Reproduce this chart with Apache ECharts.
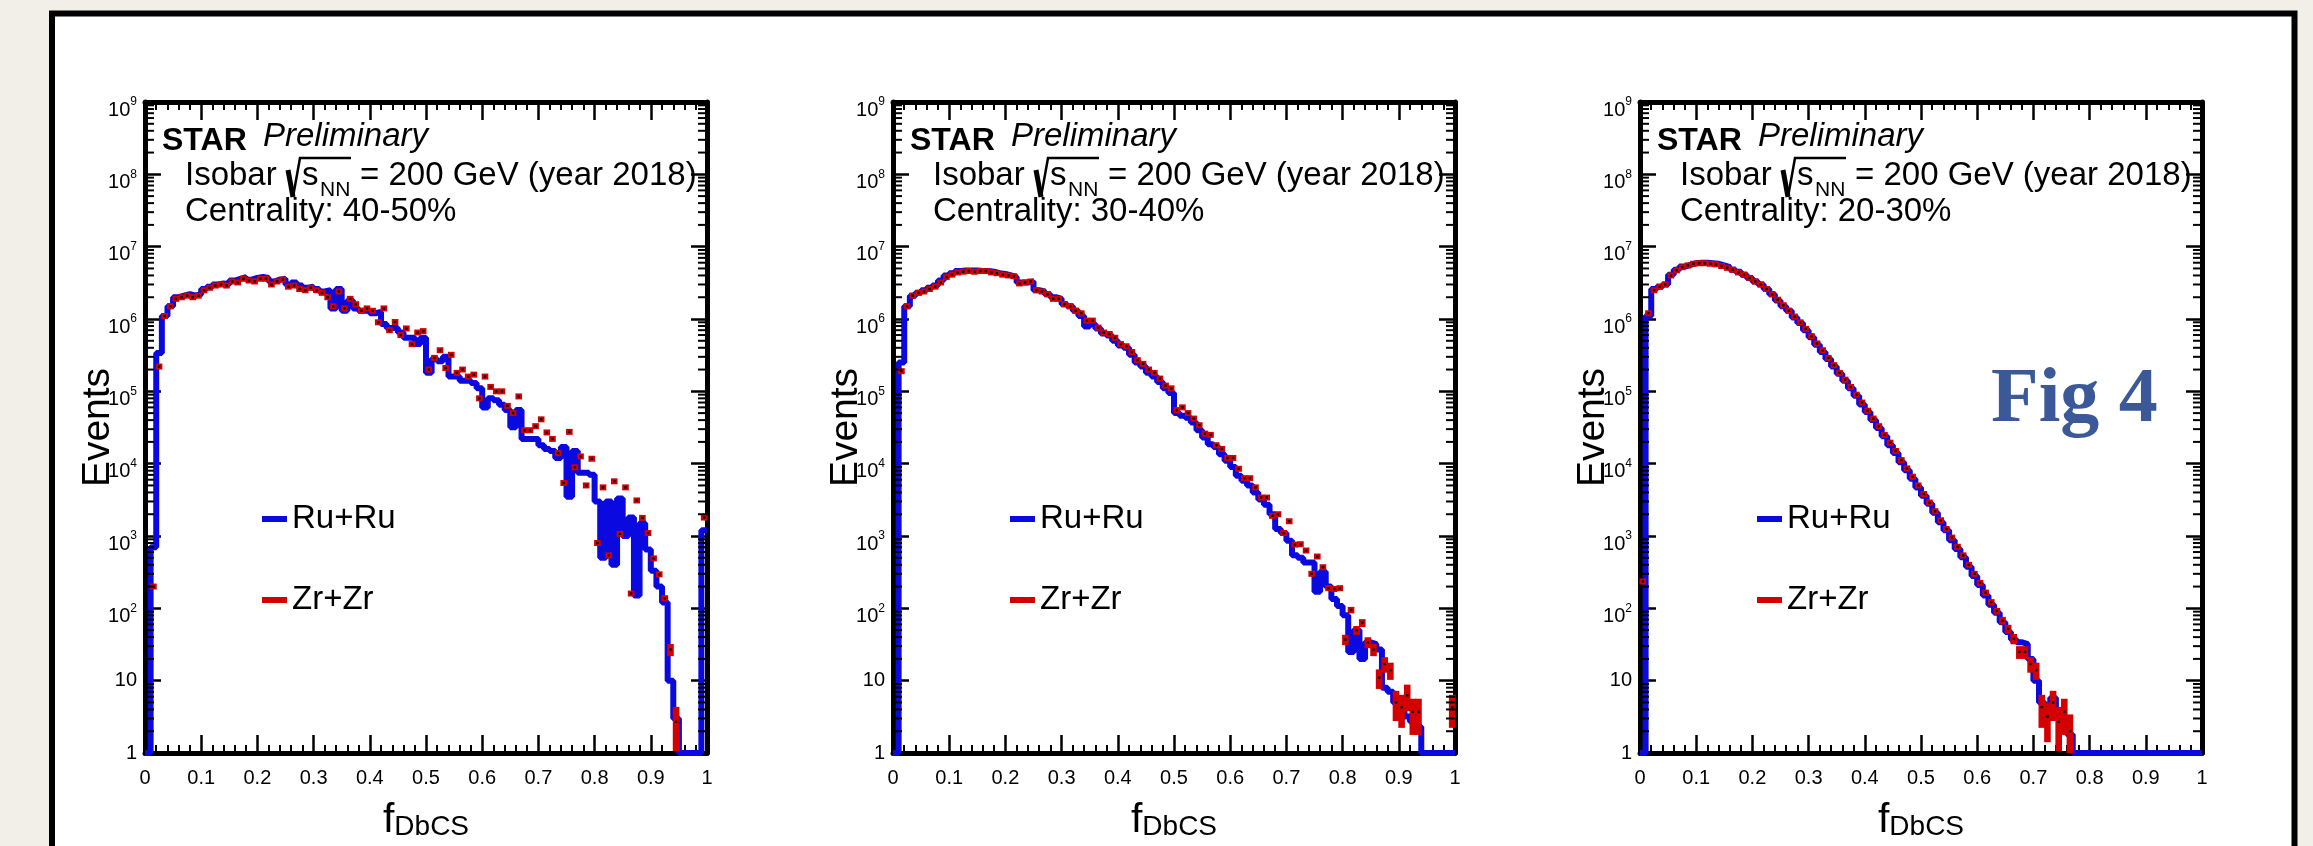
<!DOCTYPE html>
<html>
<head>
<meta charset="utf-8">
<title>STAR isobar fDbCS</title>
<script src="https://cdn.jsdelivr.net/npm/echarts@6/dist/echarts.min.js"></script>
<style>
html, body { margin: 0; padding: 0; background: #f2efe9; }
#chart { width: 2313px; height: 846px; }
</style>
</head>
<body>
<div id="chart"></div>
<script>
// centrality classes, one panel each
var centralities = ['40-50%', '30-40%', '20-30%'];

// 100 bins of 0.01 in f_DbCS, bin contents
var ru4050 = [
  1, 700, 3.4e5, 1.1e6, 1.5e6, 2.0e6, 2.1e6, 2.2e6, 2.1e6, 2.2e6,
  2.6e6, 2.8e6, 3.0e6, 3.1e6, 3.0e6, 3.4e6, 3.6e6, 3.8e6, 3.5e6, 3.7e6,
  3.8e6, 3.7e6, 3.3e6, 3.5e6, 3.6e6, 3.0e6, 3.2e6, 2.9e6, 2.7e6, 2.8e6,
  2.6e6, 2.4e6, 2.5e6, 1.4e6, 2.6e6, 1.3e6, 1.8e6, 1.4e6, 1.3e6, 1.3e6,
  1.2e6, 1.25e6, 8.5e5, 7.5e5, 7.5e5, 6.5e5, 5.5e5, 5.5e5, 4.5e5, 5.5e5,
  1.8e5, 2.8e5, 2.6e5, 3.0e5, 1.6e5, 1.6e5, 1.4e5, 1.4e5, 1.3e5, 1.1e5,
  6.0e4, 8.0e4, 7.5e4, 6.5e4, 5.5e4, 3.2e4, 5.5e4, 2.2e4, 2.2e4, 2.2e4,
  1.8e4, 1.6e4, 1.5e4, 1.2e4, 1.7e4, 3.5e3, 1.5e4, 7.5e3, 7.5e3, 7.0e3,
  3.0e3, 500, 3.0e3, 400, 3.3e3, 1.0e3, 1.8e3, 150, 1.5e3, 650,
  330, 200, 120, 10, 3, 1, 1, 1, 1, 1200
];
var zr4050 = [
  null, 200, 2.2e5, 1.1e6, 1.5e6, 1.9e6, 2.0e6, 2.1e6, 2.0e6, 2.1e6,
  2.5e6, 2.7e6, 2.9e6, 3.0e6, 2.9e6, 3.3e6, 3.2e6, 3.6e6, 3.4e6, 3.3e6,
  3.6e6, 3.6e6, 3.0e6, 3.3e6, 3.5e6, 2.8e6, 2.9e6, 2.6e6, 2.5e6, 2.7e6,
  2.5e6, 2.3e6, 2.0e6, 1.5e6, 2.4e6, 1.4e6, 1.9e6, 1.6e6, 1.3e6, 1.4e6,
  1.3e6, 9.0e5, 1.4e6, 7.0e5, 9.1e5, 6.0e5, 7.4e5, 4.5e5, 6.5e5, 6.8e5,
  2.0e5, 2.9e5, 3.7e5, 2.1e5, 3.2e5, 1.8e5, 2.0e5, 1.6e5, 1.7e5, 8.0e4,
  1.6e5, 1.15e5, 1.0e5, 1.0e5, 6.3e4, 5.0e4, 8.5e4, 2.9e4, 2.9e4, 3.3e4,
  4.1e4, 2.7e4, 2.2e4, 1.4e4, 5.4e3, 2.75e4, 8.9e3, 1.26e4, 5.0e3, 1.17e4,
  800, 4.7e3, 540, 5.7e3, 1.07e3, 4.7e3, 160, 3.1e3, 1.78e3, 1.1e3,
  490, 295, 138, 27, 2.7, null, null, null, null, 1800
];
var ru3040 = [
  1, 2.5e5, 1.5e6, 2.1e6, 2.3e6, 2.5e6, 2.7e6, 2.9e6, 3.4e6, 4.0e6,
  4.3e6, 4.6e6, 4.7e6, 4.7e6, 4.7e6, 4.6e6, 4.6e6, 4.5e6, 4.3e6, 4.2e6,
  4.0e6, 3.8e6, 3.2e6, 3.2e6, 3.3e6, 2.5e6, 2.4e6, 2.2e6, 2.0e6, 1.9e6,
  1.6e6, 1.5e6, 1.3e6, 1.1e6, 7.9e5, 8.5e5, 7.4e5, 6.3e5, 5.9e5, 5.0e5,
  4.3e5, 4.0e5, 3.2e5, 2.5e5, 2.2e5, 1.8e5, 1.6e5, 1.35e5, 1.1e5, 9.5e4,
  5.0e4, 4.6e4, 4.3e4, 3.7e4, 2.9e4, 2.3e4, 1.85e4, 1.7e4, 1.35e4, 1.1e4,
  9.0e3, 6.8e3, 5.8e3, 5.0e3, 4.0e3, 3.2e3, 2.7e3, 2.0e3, 1.25e3, 1.1e3,
  860, 540, 500, 430, 430, 170, 320, 200, 135, 108,
  80, 25, 50, 20, 34, 32, 27, 8, 7, 5,
  4.3, 3.2, 2.7, 2.3, 1, 1, 1, 1, 1, 1
];
var zr3040 = [
  null, 1.9e5, 1.5e6, 2.1e6, 2.3e6, 2.4e6, 2.6e6, 2.8e6, 3.2e6, 3.8e6,
  4.1e6, 4.4e6, 4.5e6, 4.6e6, 4.5e6, 4.6e6, 4.6e6, 4.4e6, 4.3e6, 4.1e6,
  4.0e6, 3.9e6, 3.1e6, 3.2e6, 3.3e6, 2.5e6, 2.4e6, 2.2e6, 1.9e6, 1.9e6,
  1.6e6, 1.5e6, 1.3e6, 1.2e6, 9.5e5, 9.5e5, 7.6e5, 6.5e5, 6.2e5, 5.5e5,
  4.5e5, 4.2e5, 3.5e5, 2.7e5, 2.4e5, 2.0e5, 1.8e5, 1.5e5, 1.2e5, 1.1e5,
  5.5e4, 6.0e4, 5.0e4, 4.2e4, 3.4e4, 2.6e4, 2.5e4, 1.8e4, 1.6e4, 1.2e4,
  1.2e4, 8.5e3, 6.3e3, 6.3e3, 4.7e3, 3.4e3, 3.4e3, 1.9e3, 2.0e3, 1.1e3,
  1.6e3, 760, 770, 630, 300, 520, 370, 190, 185, 190,
  37, 95, 50, 63, 34, 27, 11, 17, 14, 5,
  4.3, 6.3, 3.7, 3.7, null, null, null, null, null, 4.3
];
var ru2030 = [
  1, 1.1e6, 2.6e6, 2.8e6, 3.0e6, 4.1e6, 4.8e6, 5.3e6, 5.6e6, 5.9e6,
  6.0e6, 6.0e6, 5.9e6, 5.8e6, 5.5e6, 5.2e6, 4.8e6, 4.5e6, 4.1e6, 3.7e6,
  3.3e6, 3.0e6, 2.6e6, 2.2e6, 1.8e6, 1.5e6, 1.3e6, 1.05e6, 8.8e5, 7.0e5,
  5.6e5, 4.4e5, 3.5e5, 2.8e5, 2.2e5, 1.75e5, 1.4e5, 1.1e5, 8.7e4, 6.6e4,
  5.2e4, 4.0e4, 3.1e4, 2.4e4, 1.8e4, 1.4e4, 1.05e4, 8.1e3, 6.2e3, 4.7e3,
  3.6e3, 2.8e3, 2.1e3, 1.55e3, 1.2e3, 870, 660, 510, 375, 280,
  210, 150, 112, 87, 64, 47, 37, 34, 32, 20,
  10, 5, 4.3, 5.8, 3.7, 2.9, 1.8, 1, 1, 1,
  1, 1, 1, 1, 1, 1, 1, 1, 1, 1,
  1, 1, 1, 1, 1, 1, 1, 1, 1, 1
];
var zr2030 = [
  235, 1.2e6, 2.5e6, 2.8e6, 3.0e6, 4.0e6, 4.7e6, 5.2e6, 5.5e6, 5.8e6,
  5.9e6, 5.9e6, 5.8e6, 5.7e6, 5.4e6, 5.1e6, 4.8e6, 4.4e6, 4.1e6, 3.7e6,
  3.3e6, 3.0e6, 2.6e6, 2.2e6, 1.85e6, 1.55e6, 1.3e6, 1.08e6, 9.0e5, 7.3e5,
  5.8e5, 4.6e5, 3.7e5, 2.9e5, 2.3e5, 1.8e5, 1.45e5, 1.15e5, 9.0e4, 7.0e4,
  5.4e4, 4.2e4, 3.3e4, 2.5e4, 1.95e4, 1.5e4, 1.12e4, 8.6e3, 6.6e3, 5.0e3,
  3.8e3, 2.9e3, 2.2e3, 1.65e3, 1.25e3, 950, 710, 540, 400, 300,
  225, 165, 122, 92, 68, 52, 38, 25, 25, 17,
  14, 4.3, 3.2, 5, 2.7, 3.7, 2, null, null, null,
  null, null, null, null, null, null, null, null, null, null,
  null, null, null, null, null, null, null, null, null, null
];

var ruSets = [ru4050, ru3040, ru2030];
var zrSets = [zr4050, zr3040, zr2030];

var xTickLabels = ['0', '0.1', '0.2', '0.3', '0.4', '0.5', '0.6', '0.7', '0.8', '0.9', '1'];
var yTickExp = ['1', '10', '2', '3', '4', '5', '6', '7', '8', '9'];

var binWidth = 0.01;
var blue = '#0a0ae0';
var red = '#d40000';
var font = '"Liberation Sans", Arial, sans-serif';
var panelLeft = [145, 893, 1640];
var panelW = 562, panelTop = 102, panelH = 653;

var chart = echarts.init(document.getElementById('chart'));

function renderZr(params, api) {
  var x = api.value(0), v = api.value(1);
  var e = Math.sqrt(v);
  var c = api.coord([x, v]);
  var l = api.coord([x - binWidth / 2, v])[0];
  var r = api.coord([x + binWidth / 2, v])[0];
  var yHi = api.coord([x, v + e])[1];
  var yLo = api.coord([x, Math.max(v - e, 1)])[1];
  var top = Math.min(yHi, c[1] - 3), bot = Math.max(yLo, c[1] + 3);
  return {
    type: 'group',
    children: [
      { type: 'rect', shape: { x: l - 0.5, y: top, width: r - l + 1, height: bot - top }, style: { fill: red } },
      { type: 'rect', shape: { x: c[0] - 1.2, y: c[1] - 1.2, width: 2.4, height: 2.4 }, style: { fill: '#000' } }
    ]
  };
}

// ROOT style log minor ticks (2..9 per decade) on left and right axes
function renderMinor(params, api) {
  var v = api.value(1);
  var l = api.coord([0, v]), r = api.coord([1, v]);
  return {
    type: 'group',
    children: [
      { type: 'line', shape: { x1: l[0], y1: l[1], x2: l[0] + 9, y2: l[1] }, style: { stroke: '#000', lineWidth: 2 } },
      { type: 'line', shape: { x1: r[0], y1: r[1], x2: r[0] - 9, y2: r[1] }, style: { stroke: '#000', lineWidth: 2 } }
    ]
  };
}

var minorVals = [];
for (var k = 0; k < 9; k++) {
  for (var m = 2; m <= 9; m++) minorVals.push([0, m * Math.pow(10, k)]);
}

function yLabel(v) {
  var k = Math.round(Math.log(v) / Math.LN10);
  if (k < 2) return '{b|' + yTickExp[k] + '}';
  return '{p|10}{e|' + yTickExp[k] + '}';
}

var grids = [], xAxes = [], yAxes = [], series = [], legends = [], graphics = [];

graphics.push({
  type: 'rect', z: -10, silent: true,
  shape: { x: 52, y: 13.5, width: 2242.5, height: 900 },
  style: { fill: '#fff', stroke: '#000', lineWidth: 6 }
});

for (var p = 0; p < 3; p++) {
  var L = panelLeft[p];
  grids.push({ left: L, top: panelTop, width: panelW, height: panelH });

  var xBase = {
    type: 'value', gridIndex: p, min: 0, max: 1, interval: 0.1,
    splitLine: { show: false },
    axisLine: { show: true, onZero: false, lineStyle: { color: '#000', width: 5 } },
    axisTick: { show: true, inside: true, length: 18, lineStyle: { color: '#000', width: 2.5 } },
    minorTick: { show: true, splitNumber: 5, length: 8, lineStyle: { color: '#000', width: 2 } }
  };
  xAxes.push(Object.assign({}, xBase, {
    position: 'bottom',
    name: '{f|f}{s|DbCS}', nameLocation: 'middle', nameGap: 24, nameMoveOverlap: false,
    nameTextStyle: {
      color: '#000', fontFamily: font,
      rich: {
        f: { fontSize: 41, lineHeight: 64, verticalAlign: 'bottom', fontFamily: font, color: '#000' },
        s: { fontSize: 28, lineHeight: 28, verticalAlign: 'bottom', fontFamily: font, color: '#000' }
      }
    },
    axisLabel: {
      show: true, margin: 15, color: '#000', fontFamily: font, fontSize: 20,
      formatter: function (v) { return xTickLabels[Math.round(v * 10)]; }
    }
  }));
  xAxes.push(Object.assign({}, xBase, { position: 'top', axisLabel: { show: false } }));

  var yBase = {
    type: 'log', logBase: 10, gridIndex: p, min: 1, max: 1e9, splitNumber: 9,
    splitLine: { show: false },
    axisLine: { show: true, onZero: false, lineStyle: { color: '#000', width: 5 } },
    axisTick: { show: true, inside: true, length: 16, lineStyle: { color: '#000', width: 2.5 } },
    minorTick: { show: false }
  };
  yAxes.push(Object.assign({}, yBase, {
    position: 'left',
    name: 'Events', nameLocation: 'middle', nameRotate: 90, nameGap: 27, nameMoveOverlap: false,
    nameTextStyle: { color: '#000', fontFamily: font, fontSize: 39 },
    axisLabel: {
      show: true, margin: 8, color: '#000', fontFamily: font, padding: [12, 0, 0, 0],
      formatter: yLabel,
      rich: {
        b: { fontSize: 20, padding: [0, 0, 12, 0], fontFamily: font, color: '#000' },
        p: { fontSize: 20, lineHeight: 24, verticalAlign: 'bottom', fontFamily: font, color: '#000' },
        e: { fontSize: 12, verticalAlign: 'top', fontFamily: font, color: '#000' }
      }
    }
  }));
  yAxes.push(Object.assign({}, yBase, { position: 'right', axisLabel: { show: false } }));

  var ru = ruSets[p], zr = zrSets[p];
  var ruData = [], zrData = [];
  for (var i = 0; i < ru.length; i++) {
    ruData.push([i * binWidth, ru[i]]);
    if (zr[i] != null) zrData.push([(i + 0.5) * binWidth, zr[i]]);
  }
  ruData.push([1, ru[ru.length - 1]]);

  series.push({
    type: 'line', name: 'Ru+Ru', xAxisIndex: 2 * p, yAxisIndex: 2 * p,
    step: 'end', data: ruData, showSymbol: false, z: 3,
    lineStyle: { color: blue, width: 6 }, itemStyle: { color: blue }
  });
  series.push({
    type: 'custom', name: 'Zr+Zr', xAxisIndex: 2 * p, yAxisIndex: 2 * p,
    data: zrData, renderItem: renderZr, z: 4, itemStyle: { color: red }
  });
  series.push({
    type: 'custom', xAxisIndex: 2 * p, yAxisIndex: 2 * p, silent: true,
    data: minorVals, renderItem: renderMinor, z: 5
  });

  legends.push({
    left: L + 112, top: 489, orient: 'vertical', itemWidth: 25, itemHeight: 6, itemGap: 31,
    selectedMode: false,
    textStyle: { fontSize: 33, fontFamily: font, color: '#000', lineHeight: 34, padding: [16, 0, 0, 0] },
    data: [
      { name: 'Ru+Ru', icon: 'rect', itemStyle: { color: blue } },
      { name: 'Zr+Zr', icon: 'rect', itemStyle: { color: red } }
    ]
  });

  graphics.push(
    { type: 'text', z: 100, x: L + 17, y: 141, style: { text: 'STAR', font: 'bold 32px ' + font, fill: '#000', verticalAlign: 'middle' } },
    { type: 'text', z: 100, x: L + 118, y: 137, style: { text: 'Preliminary', font: 'italic 33px ' + font, fill: '#000', verticalAlign: 'middle' } },
    { type: 'text', z: 100, x: L + 40, y: 175.5, style: { text: 'Isobar', font: '33px ' + font, fill: '#000', verticalAlign: 'middle' } },
    { type: 'line', z: 100, shape: { x1: L + 143, y1: 170, x2: L + 148, y2: 197 }, style: { stroke: '#000', lineWidth: 5 } },
    { type: 'polyline', z: 100, shape: { points: [[L + 148, 197], [L + 155, 158], [L + 206, 158]] }, style: { stroke: '#000', lineWidth: 2.5, fill: null } },
    { type: 'text', z: 100, x: L + 157, y: 175.5, style: { text: 's', font: '33px ' + font, fill: '#000', verticalAlign: 'middle' } },
    { type: 'text', z: 100, x: L + 175, y: 190, style: { text: 'NN', font: '21px ' + font, fill: '#000', verticalAlign: 'middle' } },
    { type: 'text', z: 100, x: L + 215, y: 175.5, style: { text: '= 200 GeV (year 2018)', font: '33px ' + font, fill: '#000', verticalAlign: 'middle' } },
    { type: 'text', z: 100, x: L + 40, y: 211.5, style: { text: 'Centrality: ' + centralities[p], font: '33px ' + font, fill: '#000', verticalAlign: 'middle' } }
  );
}

graphics.push({
  type: 'text', z: 100, x: 1991, y: 401,
  style: { text: 'Fig 4', font: 'bold 78px "Liberation Serif", "Times New Roman", serif', fill: '#3b5998', verticalAlign: 'middle' }
});

var option = {
  backgroundColor: '#f2efe9',
  animation: false,
  grid: grids,
  xAxis: xAxes,
  yAxis: yAxes,
  legend: legends,
  graphic: graphics,
  series: series
};

chart.setOption(option);

window.onresize = function () {
  chart.resize();
};
</script>
</body>
</html>
